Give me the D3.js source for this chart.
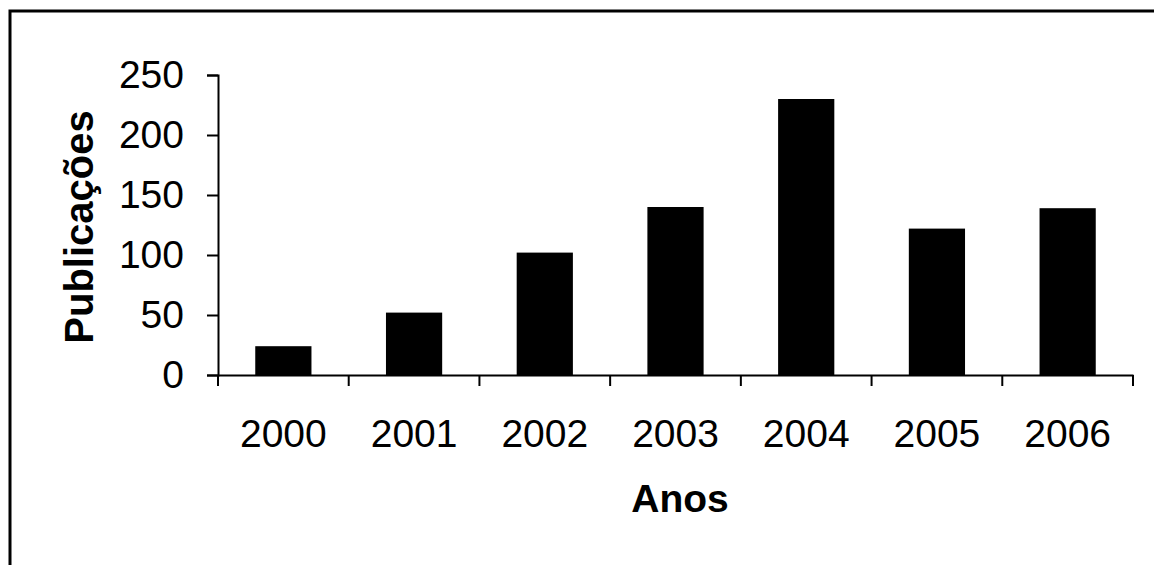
<!DOCTYPE html>
<html>
<head>
<meta charset="utf-8">
<script src="https://cdn.jsdelivr.net/npm/d3@7"></script>
<style>
  body { margin: 0; background: #fff; }
</style>
</head>
<body>
<script>
let w = 1154;
let h = 565;

const anos = ["2000", "2001", "2002", "2003", "2004", "2005", "2006"];
const publicacoes = [24, 52, 102, 140, 230, 122, 139];
const yTicks = [0, 50, 100, 150, 200, 250];

let svg = d3.select("body").append("svg").attr("width", w).attr("height", h);

// outer frame (cut off at right/bottom like the picture)
svg
  .append("rect")
  .attr("x", 10)
  .attr("y", 11)
  .attr("width", 1170)
  .attr("height", 600)
  .attr("fill", "none")
  .attr("stroke", "#000")
  .attr("stroke-width", 3);

const x = d3.scaleBand().domain(anos).range([218, 1133]).padding(0);
const y = d3.scaleLinear().domain([0, 250]).range([375, 75]);

// bars
svg
  .selectAll("rect.bar")
  .data(publicacoes)
  .enter()
  .append("rect")
  .attr("class", "bar")
  .attr("x", function (d, i) {
    return x(anos[i]) + x.bandwidth() * 0.285;
  })
  .attr("width", x.bandwidth() * 0.43)
  .attr("y", function (d) {
    return y(d);
  })
  .attr("height", function (d) {
    return y(0) - y(d);
  })
  .attr("fill", "#000");

// y axis
let yAxis = svg
  .append("g")
  .attr("transform", "translate(218,0)")
  .call(d3.axisLeft(y).tickValues(yTicks).tickSize(11).tickPadding(23));

// x axis: ticks at band edges
let xAxis = svg
  .append("g")
  .attr("transform", "translate(0,375)")
  .call(d3.axisBottom(x).tickSize(0).tickPadding(44));

xAxis
  .selectAll(".edge")
  .data(anos.concat(["end"]))
  .enter()
  .append("line")
  .attr("class", "edge")
  .attr("x1", function (d, i) {
    return i < anos.length ? x(d) : x.range()[1];
  })
  .attr("x2", function (d, i) {
    return i < anos.length ? x(d) : x.range()[1];
  })
  .attr("y1", 0)
  .attr("y2", 11)
  .attr("stroke", "#000")
  .attr("stroke-width", 2);

[yAxis, xAxis].forEach(function (g) {
  g.select(".domain").attr("stroke", "#000").attr("stroke-width", 2);
  g.selectAll(".tick line").attr("stroke", "#000").attr("stroke-width", 2);
  g.selectAll("text")
    .attr("font-family", "Arial, 'Liberation Sans', sans-serif")
    .attr("font-size", "39px")
    .attr("fill", "#000");
});

// axis titles
svg
  .append("text")
  .text("Publicações")
  .attr("transform", "translate(93,227) rotate(-90)")
  .attr("text-anchor", "middle")
  .attr("font-family", "Arial, 'Liberation Sans', sans-serif")
  .attr("font-size", "40px")
  .attr("font-weight", "bold")
  .attr("fill", "#000");

svg
  .append("text")
  .text("Anos")
  .attr("x", 680)
  .attr("y", 512)
  .attr("text-anchor", "middle")
  .attr("font-family", "Arial, 'Liberation Sans', sans-serif")
  .attr("font-size", "39px")
  .attr("font-weight", "bold")
  .attr("fill", "#000");
</script>
</body>
</html>
